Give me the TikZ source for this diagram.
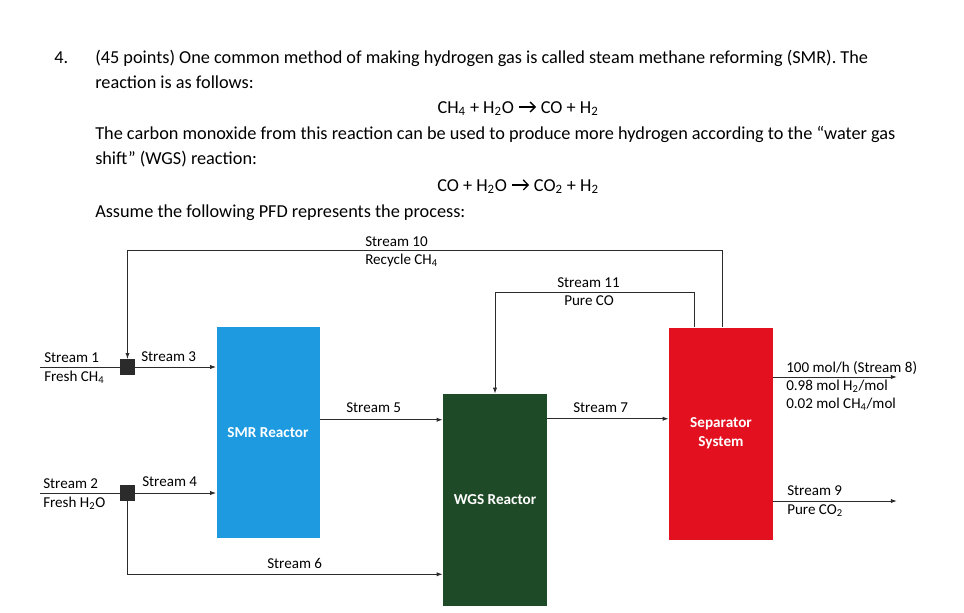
\documentclass[tikz,border=0pt]{standalone}
\usepackage{fontspec}
\setmainfont{Carlito}
\usetikzlibrary{arrows.meta,calc}
\definecolor{smrblue}{HTML}{1E9BE0}
\definecolor{wgsgreen}{HTML}{1F4A27}
\definecolor{sepred}{HTML}{E3111F}
\definecolor{ink}{HTML}{2B2B2B}
\tikzset{
  flow/.style={-{Latex[length=1.6mm,width=1.1mm]},draw=ink,line width=.7pt},
  unit/.style={draw=none,align=center,inner sep=0pt,text=white,
    font=\fontsize{11.4}{14}\selectfont\bfseries,minimum width=78pt,minimum height=159pt},
  mixer/.style={rectangle,fill=ink,minimum size=11.5pt,inner sep=0pt},
  lbl/.style={anchor=base west,inner sep=0pt,font=\fontsize{11.3}{13}\selectfont},
  body/.style={anchor=base west,inner sep=0pt,font=\fontsize{13.7}{16}\selectfont},
  eqn/.style={body,anchor=base},
}
\newcommand{\ch}[1]{CH\textsubscript{#1}}
\newcommand{\yields}{\tikz[baseline]\draw[line width=.075em,-{Straight Barb[length=.27em,width=.55em]}] (0,.33em) -- (.95em,.33em);}

\begin{document}
\begin{tikzpicture}[x=0.75pt,y=-0.75pt]
\useasboundingbox (0,0) rectangle (964,612);
% problem text
\node[body] (num) at (54,63) {4.};
\node[body] (l1) at (95,63) {(45 points) One common method of making hydrogen gas is called steam methane reforming (SMR). The};
\node[body] (l2) at (95,88) {reaction is as follows:};
\node[eqn] (eq1) at (518,113) {\ch{4} + H\textsubscript{2}O \yields\ CO + H\textsubscript{2}};
\node[body] (l3) at (95,139) {The carbon monoxide from this reaction can be used to produce more hydrogen according to the ``water gas};
\node[body] (l4) at (95,164) {shift'' (WGS) reaction:};
\node[eqn] (eq2) at (518,191) {CO + H\textsubscript{2}O \yields\ CO\textsubscript{2} + H\textsubscript{2}};
\node[body] (l5) at (95,217) {Assume the following PFD represents the process:};
% units
\node[unit,fill=smrblue,minimum width=77.25pt,minimum height=158.25pt] (smr) at (268,432.5) {SMR Reactor};
\node[unit,fill=wgsgreen] (wgs) at (495,500) {WGS Reactor};
\node[unit,fill=sepred] (sep) at (721,433.5) {Separator\\System};
\node[mixer] (mixa) at (127.5,367) {};
\node[mixer] (mixb) at (127.5,493) {};
\coordinate (in1) at (40,367); \coordinate (in2) at (40,493);
\coordinate (out8) at (897,377); \coordinate (out9) at (897,501);
% streams
\draw[flow,-] (in1) -- (mixa); \draw[flow,-] (in2) -- (mixb);
\draw[flow] (mixa) -- (smr.west |- mixa); \draw[flow] (mixb) -- (smr.west |- mixb);
\draw[flow] (mixb.south) |- ($(wgs.south west)+(0,-32)$);
\draw[flow] ($(smr.north east)+(0,93)$) coordinate (s5) -- (wgs.west |- s5);
\draw[flow] ($(wgs.north east)+(0,25)$) coordinate (s7) -- (sep.west |- s7);
\draw[flow] (sep.east |- out8) -- (out8); \draw[flow] (sep.east |- out9) -- (out9);
\draw[flow] ($(sep.north west)+(26,0)$) -- ++(0,-35) -| (wgs.north);
\draw[flow] ($(sep.north)+(1,0)$) -- ++(0,-77) -| (mixa.north);
% stream labels
\node[lbl] (t10) at (365,246) {Stream 10};
\node[lbl] (t10b) at (365,264) {Recycle \ch{4}};
\node[lbl] (t11) at (557,287) {Stream 11};
\node[lbl] (t11b) at (564,305) {Pure CO};
\node[lbl] (t1) at (44,362) {Stream 1};
\node[lbl] (t1b) at (44,381) {Fresh \ch{4}};
\node[lbl] (t3) at (141,361) {Stream 3};
\node[lbl] (t2) at (43,488) {Stream 2};
\node[lbl] (t2b) at (43,507) {Fresh H\textsubscript{2}O};
\node[lbl] (t4) at (142,486) {Stream 4};
\node[lbl] (t5) at (346,412) {Stream 5};
\node[lbl] (t6) at (267,568) {Stream 6};
\node[lbl] (t7) at (573,412) {Stream 7};
\node[lbl] (t8) at (786,372) {100 mol/h (Stream 8)};
\node[lbl] (t8b) at (786,390) {0.98 mol H\textsubscript{2}/mol};
\node[lbl] (t8c) at (786,408) {0.02 mol \ch{4}/mol};
\node[lbl] (t9) at (787,495) {Stream 9};
\node[lbl] (t9b) at (787,514) {Pure CO\textsubscript{2}};
\end{tikzpicture}
\end{document}
